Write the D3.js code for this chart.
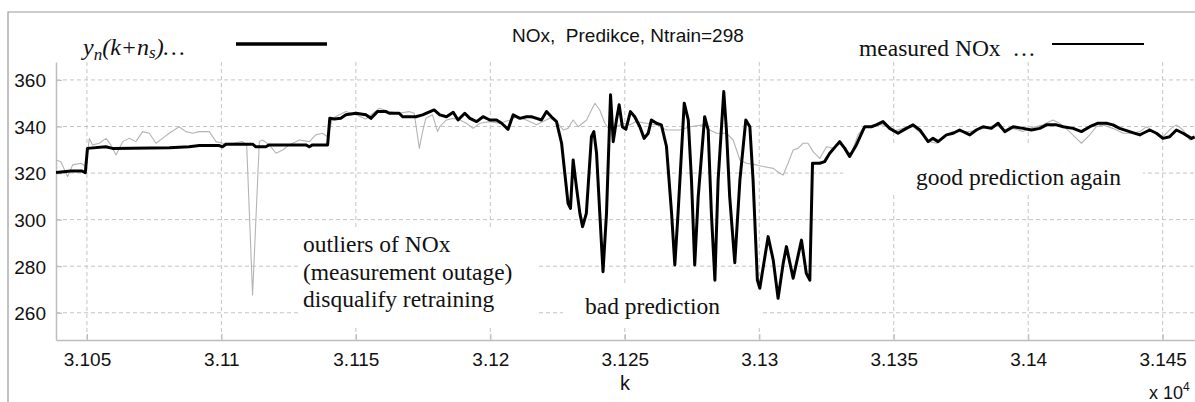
<!DOCTYPE html>
<html>
<head>
<meta charset="utf-8">
<script src="https://cdn.jsdelivr.net/npm/d3@7"></script>
<style>
  body { margin: 0; background: #fff; }
  svg { display: block; }
</style>
</head>
<body>
<div id="chart"></div>
<script>
// values: [k, NOx]
const predicted = [
  [31038.5,320.2],[31044,320.9],[31048,320.9],[31049.4,320.2],[31050.2,330.6],[31057,331.3],[31059.5,330.6],
  [31080.6,330.9],[31088,331.3],[31091.8,331.8],[31099.2,331.8],[31100.4,331.3],[31101.7,332.4],[31111.6,332.4],
  [31112.8,331.3],[31116.5,331.3],[31117.8,332.1],[31131.4,332.1],[31132.7,331.3],[31133.9,332.1],[31139.5,332.1],
  [31140.3,343.5],[31142,343.2],[31144.4,343.5],[31146.3,345],[31150,345.7],[31153.7,345],[31155.6,343.5],
  [31158,346.4],[31161.2,346.4],[31162.4,345.7],[31166.1,345.7],[31167.4,344.2],[31172.3,344.2],[31174.8,345],
  [31179.1,347.1],[31181.2,345],[31183.7,344.2],[31186.2,346.1],[31188,342.8],[31190.5,345.7],[31192.4,343.5],
  [31194.9,342.1],[31197.3,344.2],[31199.8,342.8],[31202.3,342.8],[31204.2,341.4],[31206.6,338.8],[31208.5,345],
  [31211,343.5],[31213.4,344.2],[31215.3,344.2],[31217.2,343.5],[31219,342.8],[31220.9,346.4],[31222.7,344.2],
  [31224.6,342.1],[31226.5,332.8],[31227.7,319.9],[31228.9,307],[31229.8,304.8],[31230.8,325.6],[31232,314.2],
  [31233.3,302.7],[31234.3,297],[31235.7,302.7],[31237.6,335.6],[31238.5,337.8],[31239.5,328.5],[31240.7,302.7],
  [31241.9,277.6],[31243.2,302.7],[31244.7,353.6],[31245.7,333.5],[31246.9,342.8],[31247.9,349.3],[31249.1,339.9],
  [31250.4,338.8],[31252.1,346.4],[31253.7,344.2],[31255.6,339.9],[31257.2,334.9],[31258.7,337.1],[31259.9,342.8],
  [31261.8,341.4],[31263.6,340.7],[31265.5,331.4],[31267.4,302.7],[31268.6,280.5],[31269.8,302.7],[31272.1,350],
  [31273.6,342.8],[31274.8,317],[31276,280.5],[31277.3,309.9],[31279.7,344.2],[31281,338.5],[31282.2,302.7],
  [31283.5,274],[31284.7,317],[31286.8,355],[31287.8,338.5],[31289,309.9],[31290.9,281.5],[31292.8,317],
  [31295,342.8],[31296.5,339.9],[31297.7,317],[31299.3,274],[31300.2,270.5],[31303.3,292.7],[31305.2,282.6],
  [31307,266.2],[31308.9,281.2],[31310.1,288.4],[31312.6,274.8],[31315.7,291.2],[31317.5,276.9],[31318.8,274],
  [31319.8,324.2],[31322.5,324.2],[31324.3,324.9],[31326.2,328.5],[31329.9,333.5],[31331.8,330.6],[31333.6,327.1],
  [31336.1,332.1],[31339.2,339.9],[31341.7,339.9],[31343.5,340.7],[31346,342.1],[31348.5,339.2],[31351.6,337.1],
  [31354.7,339.2],[31357.2,340.7],[31359.7,338.5],[31362.8,333.5],[31364.6,334.9],[31366.5,333.5],[31369.6,336.4],
  [31372.1,337.1],[31374.5,338.5],[31378.3,336.4],[31380.7,338.5],[31383.2,339.9],[31386.3,339.2],[31388.8,341.4],
  [31391.3,337.8],[31394.4,339.9],[31398.1,339.2],[31401.2,338.5],[31404.3,339.2],[31406.8,340.7],[31410.5,340.7],
  [31413,339.9],[31416.7,339.2],[31419.8,337.8],[31422.9,339.9],[31426,341.4],[31429.1,341.4],[31431.5,340.7],
  [31434,339.2],[31437.7,337.8],[31441.5,336.4],[31442.7,337.1],[31445.2,338.5],[31447.7,337.1],[31450.1,334.9],
  [31452.6,335.6],[31455.1,338.5],[31457.6,337.1],[31460.7,334.9],[31461.9,335.6]
]

const measured = [
  [31038.5,325.6],[31040.3,324.9],[31042.8,318.5],[31044.7,323.5],[31047.8,324.2],[31049.6,322.8],[31050.9,334.9],
  [31052.1,332.1],[31054.6,332.8],[31057.1,334.9],[31058.9,332.1],[31060.8,327.8],[31063.3,333.5],[31065.7,334.9],
  [31068.2,333.5],[31070.7,337.8],[31073.2,337.1],[31075.7,332.8],[31078.1,334.9],[31080.6,337.1],[31084.3,339.9],
  [31086.8,337.8],[31089.3,337.1],[31091.8,337.8],[31095.5,337.8],[31098,333.5],[31100.4,332.8],[31104.2,332.8],
  [31107.9,333.5],[31109.4,332.1],[31111.6,267.6],[31114.1,333.5],[31115.3,334.2],[31117.8,332.1],[31120.3,328.5],
  [31122.8,329.9],[31125.2,332.1],[31129,334.2],[31132.7,333.5],[31135.1,336.4],[31137.6,337.1],[31139.5,335.6],
  [31141.3,343.5],[31146.3,346.4],[31150,345],[31153.7,343.2],[31158.7,347.8],[31162.4,346.4],[31166.1,345.7],
  [31169.8,346.4],[31171.7,345.7],[31173.6,330.6],[31174.8,337.8],[31176,343.5],[31178.5,345],[31180.4,337.8],
  [31181.2,339.9],[31183.7,342.8],[31186.2,343.5],[31188.7,342.8],[31191.1,341.4],[31193.6,339.2],[31196.1,341.4],
  [31199.8,342.1],[31203.5,341.4],[31207.3,342.8],[31209.7,344.2],[31213.4,342.8],[31217.2,340.7],[31219.6,342.1],
  [31222.1,343.5],[31224.6,342.1],[31227.1,338.5],[31228.9,339.2],[31230.8,342.8],[31232.7,339.9],[31235.8,342.8],
  [31237.6,347.1],[31238.9,350],[31240.7,347.1],[31242.6,341.4],[31244.4,338.5],[31246.9,339.9],[31249.4,341.4],
  [31251.9,340.7],[31254.3,342.1],[31258.1,341.4],[31261.8,340.7],[31265.5,338.5],[31270.5,338.5],[31274.2,339.9],
  [31279.1,340.7],[31281.6,338.5],[31284.1,337.1],[31287.8,337.1],[31290.3,334.2],[31292.8,325.6],[31295.2,324.2],
  [31299,323.5],[31301.4,322.8],[31305.2,322],[31307.6,319.9],[31308.9,319.2],[31310.7,324.2],[31312.6,329.9],
  [31314.4,330.6],[31316.3,332.8],[31318.1,332.8],[31320,329.2],[31322.5,326.3],[31325,331.3],[31327.4,330.6],
  [31329.9,332.8],[31332.4,329.2],[31334.3,328.5],[31336.7,336.4],[31338.6,339.2],[31341.1,339.9],[31344.8,340.7],
  [31347.3,340.7],[31349.7,337.8],[31353.5,339.2],[31357.2,339.9],[31360.9,336.4],[31363.4,333.5],[31365.9,332.8],
  [31368.3,335.6],[31372.1,337.8],[31378.3,337.8],[31380.7,338.5],[31383.2,339.2],[31385.7,339.9],[31388.2,340.7],
  [31390.6,338.5],[31394.4,339.2],[31398.1,337.8],[31400.6,339.2],[31405.5,340.7],[31409.2,342.8],[31411.7,341.4],
  [31415.4,337.8],[31417.9,334.9],[31419.8,332.8],[31422.9,336.4],[31425.3,339.9],[31427.8,340.7],[31431.5,339.2],
  [31435.3,337.1],[31439,337.1],[31441.5,337.8],[31444,339.9],[31446.4,337.8],[31450.1,335.6],[31453.2,339.2],
  [31455.1,340.7],[31457.6,338.5],[31460.1,334.2],[31461.9,334.9]
]

const xTicks = [31050, 31100, 31150, 31200, 31250, 31300, 31350, 31400, 31450]
const xTickLabels = ["3.105", "3.11", "3.115", "3.12", "3.125", "3.13", "3.135", "3.14", "3.145"]
const yTicks = [260, 280, 300, 320, 340, 360]

const annotations = [
  { lines: ["outliers of NOx", "(measurement outage)", "disqualify retraining"], x: 303, y: 252 },
  { lines: ["bad prediction"], x: 585, y: 314 },
  { lines: ["good prediction again"], x: 916, y: 185 }
]

function drawChart() {

  let dimensions = {
    width: 1195,
    height: 402,
    margin: { top: 62, left: 56, bottom: 62 },
  }
  dimensions.plotBottom = dimensions.height - dimensions.margin.bottom

  const svg = d3.select("#chart")
    .append("svg")
      .attr("width", dimensions.width)
      .attr("height", dimensions.height)

  const sans = "'Liberation Sans', Arial, sans-serif"
  const serif = "'Liberation Serif', 'Times New Roman', serif"

  // scales
  const xScale = d3.scaleLinear()
    .domain([31038.5, 31465])
    .range([dimensions.margin.left, 1203])

  const yScale = d3.scaleLinear()
    .domain([248.3, 367.7])
    .range([dimensions.plotBottom, dimensions.margin.top])

  // outer frame
  svg.append("path")
    .attr("d", `M8,402 V12 H1195`)
    .attr("fill", "none")
    .attr("stroke", "#9a9a9a")
    .attr("stroke-width", 1.2)

  // grid
  const grid = svg.append("g")
    .attr("stroke", "#c4c4c4")
    .attr("stroke-dasharray", "4,3")
    .attr("stroke-width", 1)

  grid.selectAll(".gx").data(xTicks).join("line")
    .attr("x1", d => xScale(d)).attr("x2", d => xScale(d))
    .attr("y1", dimensions.margin.top).attr("y2", dimensions.plotBottom)

  grid.selectAll(".gy").data(yTicks).join("line")
    .attr("x1", dimensions.margin.left).attr("x2", dimensions.width)
    .attr("y1", d => yScale(d)).attr("y2", d => yScale(d))

  // white boxes behind annotations cover the grid
  const boxes = [[300, 228, 237, 97], [563, 283, 200, 42], [843, 143, 300, 52]]
  svg.selectAll(".box").data(boxes).join("rect")
    .attr("x", d => d[0]).attr("y", d => d[1])
    .attr("width", d => d[2]).attr("height", d => d[3])
    .attr("fill", "#fff")

  // axes
  const xAxis = d3.axisBottom(xScale)
    .tickValues(xTicks)
    .tickFormat((d, i) => xTickLabels[i])
    .tickSizeInner(-6)
    .tickSizeOuter(0)
    .tickPadding(13)

  const xAxisGroup = svg.append("g")
    .attr("transform", `translate(0, ${dimensions.plotBottom})`)
    .call(xAxis)

  const yAxis = d3.axisLeft(yScale)
    .tickValues(yTicks)
    .tickSizeInner(-6)
    .tickSizeOuter(0)
    .tickPadding(10)

  const yAxisGroup = svg.append("g")
    .attr("transform", `translate(${dimensions.margin.left}, 0)`)
    .call(yAxis)

  for (const g of [xAxisGroup, yAxisGroup]) {
    g.select(".domain").attr("stroke", "#bdbdbd").attr("stroke-width", 1.5)
    g.selectAll(".tick line").attr("stroke", "#bdbdbd").attr("stroke-width", 1.2)
    g.selectAll(".tick text")
      .attr("fill", "#111")
      .style("font-family", sans)
      .style("font-size", "19px")
  }
  xAxisGroup.selectAll(".tick text").attr("dy", "0.71em")
  yAxisGroup.selectAll(".tick text").attr("dy", "0.36em")

  // data lines
  svg.append("clipPath").attr("id", "plotClip")
    .append("rect")
      .attr("x", dimensions.margin.left)
      .attr("y", dimensions.margin.top - 10)
      .attr("width", dimensions.width - dimensions.margin.left)
      .attr("height", dimensions.plotBottom - dimensions.margin.top + 10)

  const lineGenerator = d3.line()
    .x(d => xScale(d[0]))
    .y(d => yScale(d[1]))

  const plot = svg.append("g").attr("clip-path", "url(#plotClip)")

  plot.append("path")
    .attr("d", lineGenerator(measured))
    .attr("fill", "none")
    .attr("stroke", "#b4b4b4")
    .attr("stroke-width", 1.1)
    .attr("stroke-linejoin", "round")

  plot.append("path")
    .attr("d", lineGenerator(predicted))
    .attr("fill", "none")
    .attr("stroke", "#000")
    .attr("stroke-width", 3)
    .attr("stroke-linejoin", "round")

  // title
  svg.append("text")
    .attr("x", 512).attr("y", 42)
    .style("font-family", sans)
    .style("font-size", "19px")
    .attr("fill", "#111")
    .style("white-space", "pre")
    .text("NOx,  Predikce, Ntrain=298")

  // legend: prediction
  const leg1 = svg.append("text")
    .attr("x", 83).attr("y", 55)
    .style("font-family", serif)
    .style("font-size", "24px")
    .style("font-style", "italic")
    .attr("fill", "#111")
  leg1.append("tspan").text("y")
  leg1.append("tspan").attr("dy", 5).style("font-size", "17px").text("n")
  leg1.append("tspan").attr("dy", -5).text("(k+n")
  leg1.append("tspan").attr("dy", 3).style("font-size", "17px").text("s")
  leg1.append("tspan").attr("dy", -3).text(")…")

  svg.append("line")
    .attr("x1", 236).attr("x2", 327).attr("y1", 44).attr("y2", 44)
    .attr("stroke", "#000").attr("stroke-width", 3.5)

  // legend: measured
  svg.append("text")
    .attr("x", 859).attr("y", 56)
    .style("font-family", serif)
    .style("font-size", "23.5px")
    .style("white-space", "pre")
    .attr("fill", "#111")
    .text("measured NOx  …")

  svg.append("line")
    .attr("x1", 1052).attr("x2", 1144).attr("y1", 44).attr("y2", 44)
    .attr("stroke", "#000").attr("stroke-width", 2.2)

  // annotations
  annotations.forEach(a => {
    const t = svg.append("text")
      .style("font-family", serif)
      .style("font-size", "23.5px")
      .attr("fill", "#111")
    a.lines.forEach((line, i) => {
      t.append("tspan").attr("x", a.x).attr("y", a.y + i * 27.5).text(line)
    })
  })

  // x label and exponent
  svg.append("text")
    .attr("x", 625).attr("y", 390)
    .attr("text-anchor", "middle")
    .style("font-family", sans)
    .style("font-size", "20px")
    .attr("fill", "#111")
    .text("k")

  const expo = svg.append("text")
    .attr("x", 1149).attr("y", 399)
    .style("font-family", sans)
    .style("font-size", "18px")
    .attr("fill", "#111")
  expo.append("tspan").text("x 10")
  expo.append("tspan").attr("dy", -8).style("font-size", "12px").text("4")
}

drawChart()
</script>
</body>
</html>
